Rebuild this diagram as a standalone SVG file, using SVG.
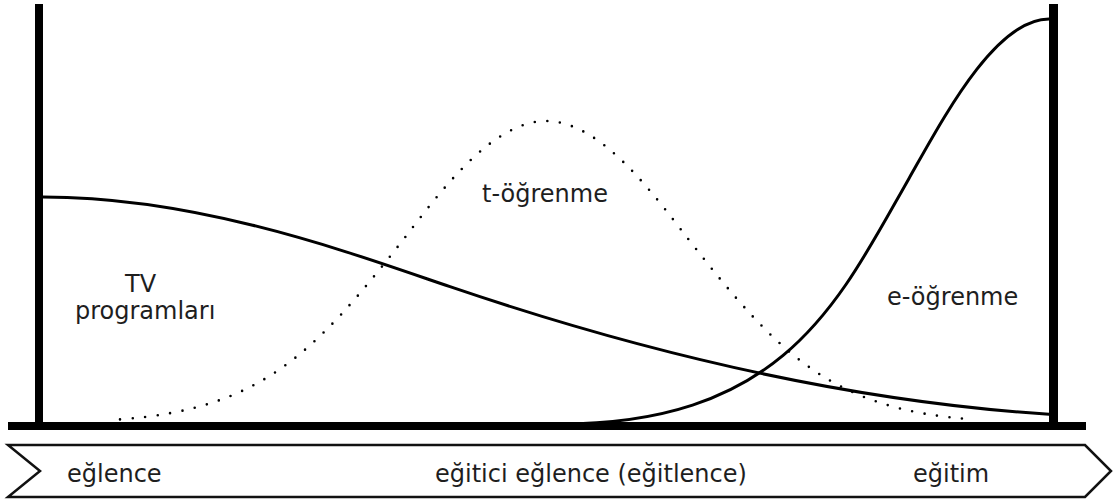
<svg xmlns="http://www.w3.org/2000/svg" width="1113" height="501" viewBox="0 0 1113 501">
  <style>
    .lbl { font-family: "DejaVu Sans", Verdana, sans-serif; font-size: 24px; fill: #1e1e1e; }
    .bar { fill: #000; }
    .curve { fill: none; stroke: #000; stroke-width: 3; stroke-linecap: round; }
    .dotted { fill: none; stroke: #000; stroke-width: 2.6; stroke-linecap: round; stroke-dasharray: 0 12.6; }
    .band { fill: #fff; stroke: #111; stroke-width: 2.5; stroke-linejoin: miter; }
  </style>
  <rect width="1113" height="501" fill="#fff"/>
  <g id="axes">
    <rect class="bar" x="35" y="4" width="8" height="426"/>
    <rect class="bar" x="1049" y="4" width="9" height="426"/>
    <rect class="bar" x="8" y="422" width="1078" height="8"/>
  </g>
  <g id="connectors">
    <path id="curve-t" class="dotted" d="M120,419.4 C260,409 313,355 403,240 C438,195 491,121 546,121 C601,121 654,195 689,240 C779,355 832,409 972,419.4"/>
    <path id="curve-tv" class="curve" d="M43,197 C200,197 350,252.7 450,286.7 C700,371.7 899,404.6 1049,414.3"/>
    <path id="curve-e" class="curve" d="M560,424 C785,423.5 839,301.2 909,178.4 C943,118.7 995,19 1049,19"/>
  </g>
  <g id="node-tv">
    <text class="lbl" x="125" y="292">TV</text>
    <text class="lbl" x="75" y="319">programları</text>
  </g>
  <g id="node-t">
    <text class="lbl" x="482" y="202">t-öğrenme</text>
  </g>
  <g id="node-e">
    <text class="lbl" x="887" y="305">e-öğrenme</text>
  </g>
  <g id="scale">
    <polygon class="band" points="8,445 1085,445 1111,471 1085,497 8,497 40,471"/>
    <text class="lbl" x="67" y="482">eğlence</text>
    <text class="lbl" x="435" y="482">eğitici eğlence (eğitlence)</text>
    <text class="lbl" x="913" y="482">eğitim</text>
  </g>
</svg>
